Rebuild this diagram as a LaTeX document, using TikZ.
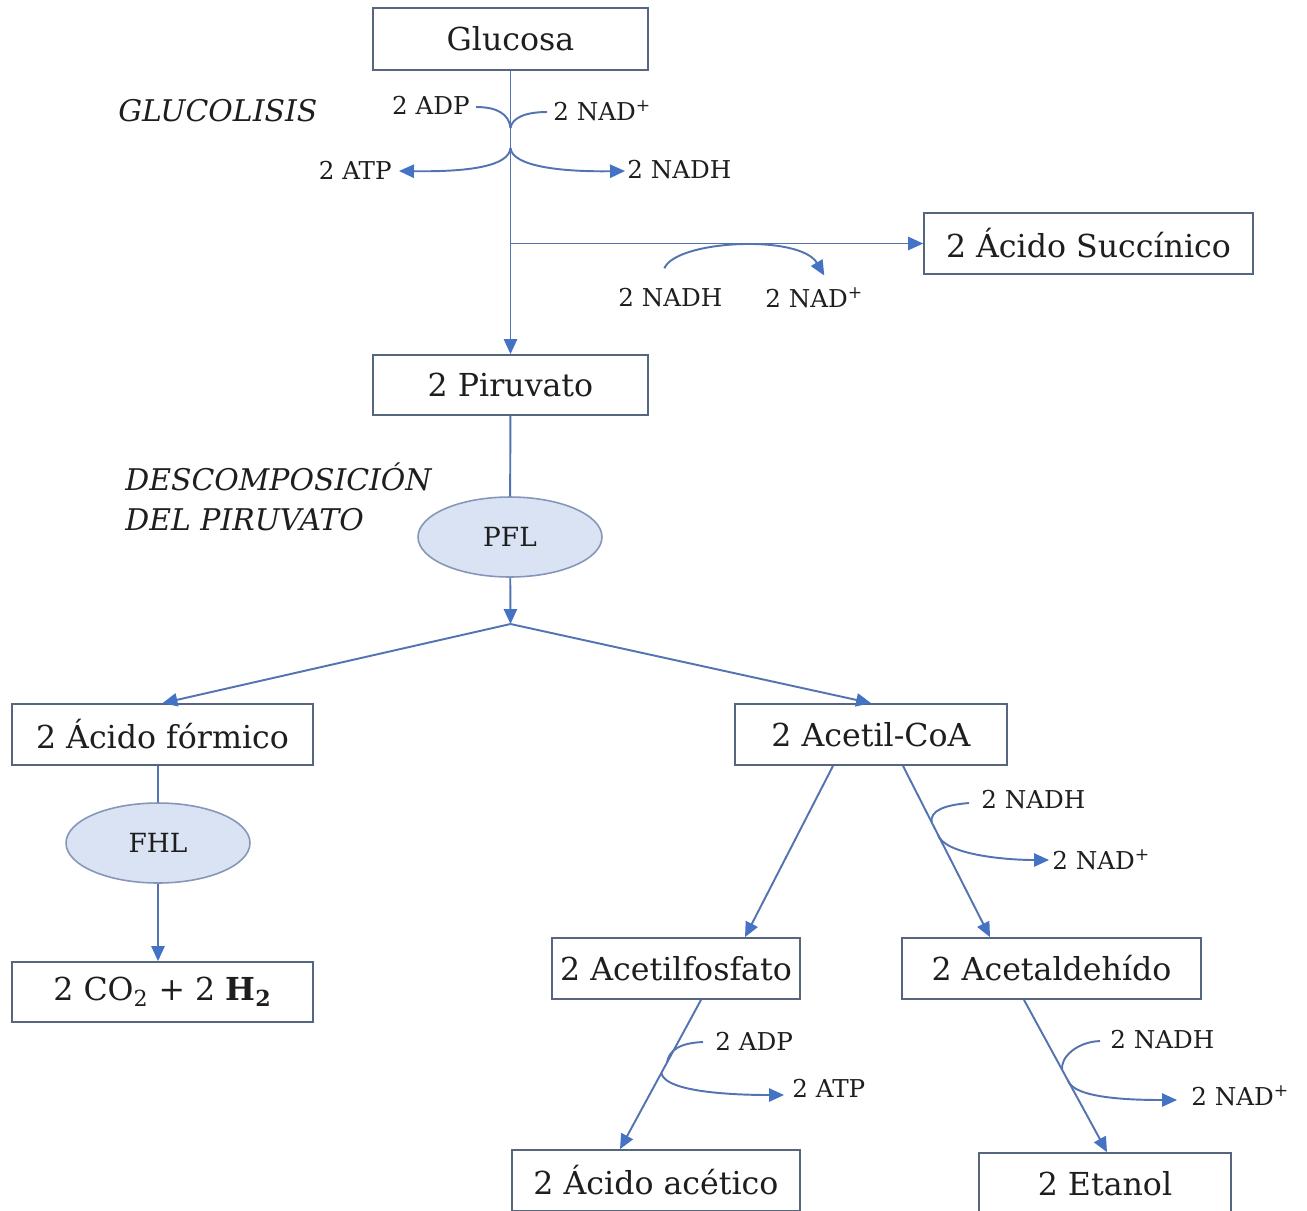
\documentclass[tikz,border=0pt]{standalone}
\usepackage{fontspec}
\setmainfont{DejaVu Serif}
\usetikzlibrary{arrows.meta,shapes.geometric,calc}
\definecolor{lnc}{HTML}{5374B0}
\definecolor{bx}{HTML}{56667F}
\definecolor{tipc}{HTML}{4472C4}
\definecolor{ef}{HTML}{DAE3F3}
\definecolor{ebd}{HTML}{8597B8}
\definecolor{txt}{HTML}{1E1E1E}
\begin{document}
\begin{tikzpicture}[x=0.02cm,y=-0.02cm,
  box/.style={draw=bx,line width=1pt,fill=white,text=txt,font=\fontsize{18}{20}\selectfont,inner sep=0pt,minimum height=1.22cm},
  enz/.style={ellipse,draw=ebd,fill=ef,line width=0.9pt,text=txt,font=\fontsize{15}{17}\selectfont,inner sep=0pt,minimum width=3.68cm,minimum height=1.6cm},
  lab/.style={text=txt,font=\fontsize{14}{16}\selectfont,inner sep=0pt},
  ttl/.style={text=txt,font=\fontsize{17}{22.7}\selectfont\itshape,inner sep=0pt,align=left},
  ln/.style={draw=lnc,line width=1.1pt},
  arr/.style={ln,-{Triangle[length=8.5pt,width=7.5pt,color=tipc]}},
  ]
\useasboundingbox (0,0) rectangle (1307,1210);
\clip (0,0) rectangle (1307,1210);
\fill[white] (0,0) rectangle (1307,1210);

% boxes
\node[box,minimum width=5.5cm,minimum height=1.24cm] (gluc) at (510.5,39) {Glucosa};
\node[box,minimum width=5.5cm,minimum height=1.2cm] (piru) at (510.5,385) {2 Piruvato};
\node[box,minimum width=6.58cm] (succ) at (1088.5,243.5) {2 Ácido Succínico};
\node[enz] (pfl) at (510,537) {PFL};
\node[box,minimum width=6.02cm] (form) at (162.5,734.5) {2 Ácido fórmico};
\node[box,minimum width=5.44cm] (acoa) at (871,734.5) {2 Acetil-CoA};
\node[enz] (fhl) at (158,843) {FHL};
\node[box,minimum width=6.02cm,minimum height=1.2cm] (co2) at (162.5,992) {2 CO\textsubscript{2} + 2 \textbf{H\textsubscript{2}}};
\node[box,minimum width=4.96cm] (afos) at (676,968.5) {2 Acetilfosfato};
\node[box,minimum width=5.98cm] (aald) at (1051.5,968.5) {2 Acetaldehído};
\node[box,minimum width=5.76cm] (acet) at (656,1180.5) {2 Ácido acético};
\node[box,minimum width=5.04cm] (etan) at (1105,1183.5) {2 Etanol};

% titles
\node[ttl,anchor=west] (tglu) at (118,111) {GLUCOLISIS};
\node[ttl,anchor=west] (tdes) at (125,497) {DESCOMPOSICIÓN\\DEL PIRUVATO};

% labels
\node[lab,anchor=east] (adp1) at (470,105) {2 ADP};
\node[lab,anchor=west] (nadp1) at (553,111) {2 NAD\textsuperscript{+}};
\node[lab,anchor=east] (atp1) at (392,170) {2 ATP};
\node[lab,anchor=west] (nadh1) at (627,170) {2 NADH};
\node[lab,anchor=west] (nadh2) at (618,298) {2 NADH};
\node[lab,anchor=west] (nadp2) at (765,298) {2 NAD\textsuperscript{+}};
\node[lab,anchor=west] (nadh3) at (981,800) {2 NADH};
\node[lab,anchor=west] (nadp3) at (1052,860) {2 NAD\textsuperscript{+}};
\node[lab,anchor=west] (adp2) at (715,1041) {2 ADP};
\node[lab,anchor=west] (atp2) at (792,1088) {2 ATP};
\node[lab,anchor=west] (nadh4) at (1110,1040) {2 NADH};
\node[lab,anchor=west] (nadp4) at (1191,1096) {2 NAD\textsuperscript{+}};

% main flow
\draw[arr] (gluc) -- (piru);
\coordinate (sj) at (510.5,243.5);
\draw[arr] (sj) -- (succ.west);
\draw[ln] (piru) -- (pfl);
\coordinate (br) at (510.5,624);
\draw[arr] (pfl) -- (br);
\draw[arr] (br) -- (form.north);
\draw[arr] (br) -- (acoa.north);
\draw[ln] (form.south -| fhl.north) -- (fhl.north);
\draw[arr] (fhl.south) -- (co2.north -| fhl.south);

% glucolysis side reactions
\coordinate (gj1) at (510.5,128);
\coordinate (gj2) at (510.5,148);
\draw[ln] ($(adp1.east)+(6,2)$) .. controls (497,107) and (509,114) .. (gj1);
\draw[ln] ($(nadp1.west)+(-6,1)$) .. controls (525,112) and (512,118) .. (gj1);
\draw[arr] (gj2) .. controls (509,166) and (470,172) .. ($(atp1.east)+(7,1)$);
\draw[arr] (gj2) .. controls (512,166) and (560,172) .. ($(nadh1.west)+(-2,1)$);

% succinic side reaction
\draw[arr] ($(nadh2.north)+(-6,-20)$) .. controls (676,240) and (800,234) .. ($(nadp2.north)+(10,-12)$);

% acetil-CoA -> acetaldehido
\coordinate (a1) at ($(acoa.south)+(32,0)$);
\coordinate (a2) at ($(aald.north)+(-61.5,0)$);
\draw[arr] (a1) -- (a2);
\coordinate (m1) at ($(a1)!0.33!(a2)$);
\coordinate (m2) at ($(a1)!0.40!(a2)$);
\draw[ln] ($(nadh3.west)+(-12,3)$) .. controls +(-24,2) and +(-2,-12) .. (m1);
\draw[arr] (m2) .. controls +(6,20) and +(-45,0) .. ($(nadp3.west)+(-3,0)$);

% acetil-CoA -> acetilfosfato
\coordinate (p1) at ($(acoa.south)+(-38,0)$);
\coordinate (p2) at ($(afos.north)+(69,0)$);
\draw[arr] (p1) -- (p2);

% acetilfosfato -> acido acetico
\coordinate (b1) at ($(afos.south)+(25,0)$);
\coordinate (b2) at ($(acet.north)+(-36,0)$);
\draw[arr] (b1) -- (b2);
\coordinate (n1) at ($(b1)!0.42!(b2)$);
\coordinate (n2) at ($(b1)!0.49!(b2)$);
\draw[ln] ($(adp2.west)+(-12,1)$) .. controls +(-24,1) and +(2,-12) .. (n1);
\draw[arr] (n2) .. controls +(4,20) and +(-45,0) .. ($(atp2.west)+(-8,7)$);

% acetaldehido -> etanol
\coordinate (c1) at ($(aald.south)+(-27.5,0)$);
\coordinate (c2) at ($(etan.north)+(2,0)$);
\draw[arr] (c1) -- (c2);
\coordinate (k1) at ($(c1)!0.46!(c2)$);
\coordinate (k2) at ($(c1)!0.53!(c2)$);
\draw[ln] ($(nadh4.west)+(-10,1)$) .. controls +(-24,1) and +(-2,-12) .. (k1);
\draw[arr] (k2) .. controls +(6,18) and +(-45,0) .. ($(nadp4.west)+(-14,4)$);
\end{tikzpicture}
\end{document}
